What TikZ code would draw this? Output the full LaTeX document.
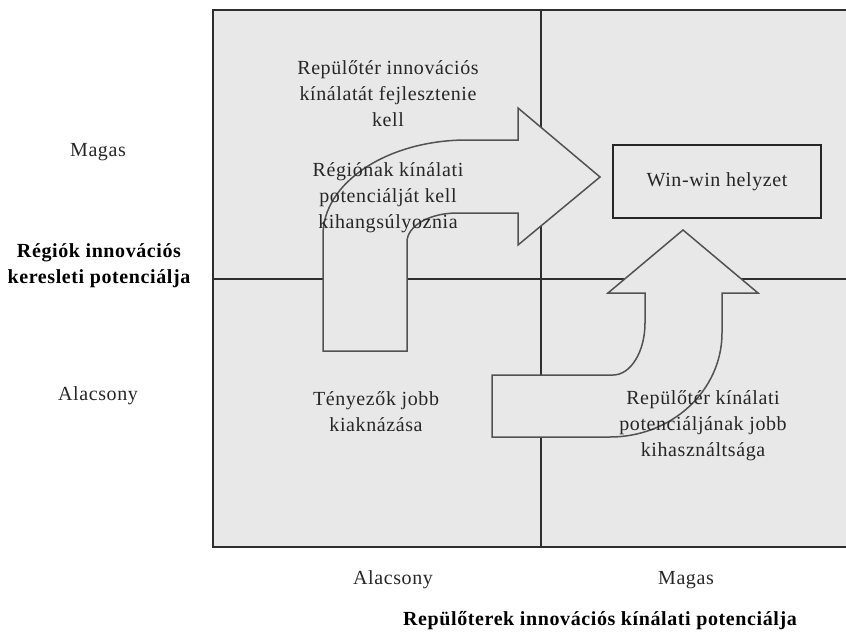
\documentclass[tikz,border=0pt]{standalone}
\usepackage{fontspec}
\setmainfont[LetterSpace=3]{Liberation Serif}
\definecolor{bgfill}{gray}{0.91}
\definecolor{framecol}{gray}{0.18}
\definecolor{arrowcol}{gray}{0.32}
\begin{document}
\begin{tikzpicture}[x=1pt,y=-1pt,
  lbl/.style={align=center,font=\fontsize{20}{26}\selectfont,inner sep=0pt,text=black!85},
  axislbl/.style={align=center,font=\fontsize{20}{26}\selectfont\bfseries,inner sep=0pt},
  bigarrow/.style={fill=bgfill,draw=arrowcol,line width=1.5pt,line join=miter},
  divider/.style={draw=framecol,line width=1.4pt},
  winbox/.style={draw=black!85,fill=bgfill,line width=1.6pt,minimum width=208pt,minimum height=73pt,inner sep=0pt,font=\fontsize{20}{26}\selectfont,text=black!85}]
\useasboundingbox (0,0) rectangle (846,635);
% background panel
\fill[bgfill] (213,10) rectangle (846,547);
\coordinate (tl) at (213,10);
\coordinate (tr) at (846,10);
\coordinate (bl) at (213,547);
\coordinate (br) at (846,547);
\coordinate (vt) at (541,10);
\coordinate (vb) at (541,547);
\coordinate (hl) at (213,279);
\coordinate (hr) at (846,279);
\draw[divider] (tr) -- (tl) -- (bl) -- (br);
\draw[divider] (vt) -- (vb);
\draw[divider] (hl) -- (hr);
% upper bent arrow
\draw[bigarrow] (323,351) -- (323,235)
  .. controls (323,182.5) and (387.5,140) .. (467,140)
  -- (518,140) -- (518,108) -- (600,177) -- (518,245) -- (518,213) -- (457,213)
  .. controls (429.4,213) and (407,226) .. (407,242)
  -- (407,351) -- cycle;
% lower bent arrow
\draw[bigarrow] (492,375) -- (613,375)
  .. controls (630.7,375) and (645,351.7) .. (645,323)
  -- (645,293) -- (608,293) -- (683,230) -- (758,293) -- (722,293) -- (722,333)
  .. controls (722,390.4) and (671.8,437) .. (610,437)
  -- (492,437) -- cycle;
% win-win box
\node[winbox] (win) at (717,181.5) {Win-win helyzet};
% quadrant texts
\node[lbl] (t1) at (388,94) {Repülőtér innovációs\\kínálatát fejlesztenie\\kell};
\node[lbl] (t2) at (388,198) {Régiónak kínálati\\potenciálját kell\\kihangsúlyoznia};
\node[lbl] (t3) at (376,412) {Tényezők jobb\\kiaknázása};
\node[lbl] (t4) at (703,426) {Repülőtér kínálati\\potenciáljának jobb\\kihasználtsága};
% axis labels
\node[lbl] (ymag) at (98,152) {Magas};
\node[axislbl] (ytitle) at (99,266) {Régiók innovációs\\keresleti potenciálja};
\node[lbl] (yala) at (98,396) {Alacsony};
\node[lbl] (xala) at (393,580) {Alacsony};
\node[lbl] (xmag) at (686,580) {Magas};
\node[axislbl] (xtitle) at (600,621) {Repülőterek innovációs kínálati potenciálja};
\end{tikzpicture}
\end{document}
